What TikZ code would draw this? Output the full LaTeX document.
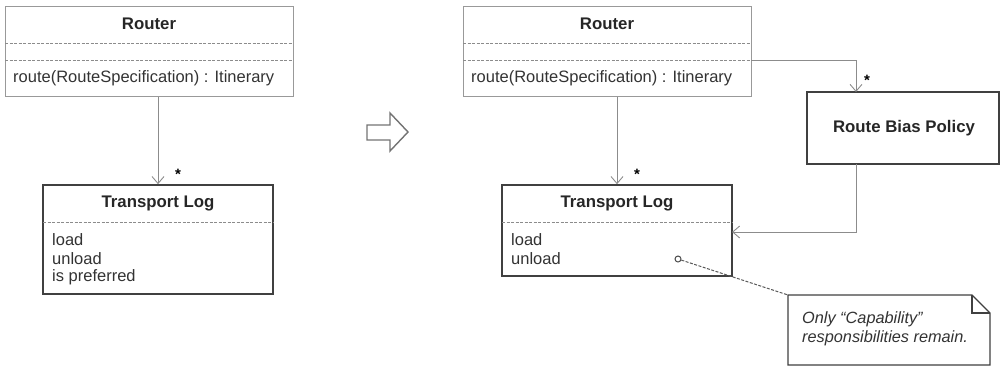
\documentclass[tikz,border=0pt]{standalone}
\usepackage{fontspec}
\setmainfont{Liberation Sans}
\usetikzlibrary{arrows.meta,shapes.misc}
\begin{document}
\begin{tikzpicture}[x=1pt,y=-1pt,
  lightbox/.style={draw=black!40, line width=1pt, inner sep=0pt},
  darkbox/.style={draw=black!75, line width=1.6pt, inner sep=0pt},
  sep/.style={draw=black!45, dashed, dash pattern=on 3pt off 1.5pt, line width=0.9pt},
  conn/.style={draw=black!45, line width=0.9pt},
  tip/.style={-{Straight Barb[length=7pt,width=12pt,line width=0.9pt]}},
  title/.style={font=\fontsize{16.8}{19}\selectfont\bfseries, text=black!85, inner sep=0pt},
  item/.style={font=\fontsize{16.5}{19}\selectfont, text=black!80, inner sep=0pt, anchor=west},
  mult/.style={font=\fontsize{15}{18}\selectfont\bfseries, inner sep=0pt},
  notetext/.style={font=\fontsize{16.3}{18.5}\selectfont\itshape, text=black!80, inner sep=0pt, anchor=west, align=left}]
\useasboundingbox (0,0) rectangle (1000,368);
% ---------- left side ----------
\node[lightbox, minimum width=288pt, minimum height=90pt] (r1) at (149,51) {};
\node[title] (r1t) at (149,24) {Router};
\draw[sep] (5,43) -- (293,43);
\draw[sep] (5,60) -- (293,60);
\node[item] (r1op) at (13,78) {route(RouteSpecification) : Itinerary};

\node[darkbox, minimum width=230pt, minimum height=109pt] (tl1) at (158,239.5) {};
\node[title] (tl1t) at (158,203) {Transport Log};
\draw[sep] (43,222) -- (273,222);
\node[item] (tl1a) at (52,240) {load};
\node[item] (tl1b) at (52,258.5) {unload};
\node[item] (tl1c) at (52,277) {is preferred};

\draw[conn,tip] (tl1.north |- r1.south) -- (tl1.north);
\node[mult] (m1) at (178,174) {*};

% ---------- transformation arrow ----------
\draw[draw=black!55, line width=1.4pt, line join=miter] (367,125) -- (390,125) -- (390,113) -- (408,132) -- (390,151) -- (390,140) -- (367,140) -- cycle;

% ---------- right side ----------
\node[lightbox, minimum width=288pt, minimum height=90pt] (r2) at (607,51) {};
\node[title] (r2t) at (607,24) {Router};
\draw[sep] (463,43) -- (751,43);
\draw[sep] (463,60) -- (751,60);
\node[item] (r2op) at (471,78) {route(RouteSpecification) : Itinerary};

\node[darkbox, minimum width=230pt, minimum height=91pt] (tl2) at (617,230.5) {};
\node[title] (tl2t) at (617,203) {Transport Log};
\draw[sep] (502,222) -- (732,222);
\node[item] (tl2a) at (511,240) {load};
\node[item] (tl2b) at (511,259) {unload};

\draw[conn,tip] (tl2.north |- r2.south) -- (tl2.north);
\node[mult] (m2) at (637,174) {*};

\node[darkbox, minimum width=192pt, minimum height=72pt] (rbp) at (903,128) {};
\node[title] (rbpt) at (904,128) {Route Bias Policy};

\coordinate (r2c) at (751,60);
\coordinate (rbpin) at (856,92);
\draw[conn,tip] (r2c) -| (rbpin);
\node[mult] (m3) at (867,80) {*};

\coordinate (rbpout) at (856,164);
\coordinate (tl2in) at (732,232);
\draw[conn,tip] (rbpout) |- (tl2in);

% ---------- note ----------
\coordinate (nA) at (788,295);
\draw[draw=black!75, line width=1.2pt, fill=white] (788,295) -- (972,295) -- (990,313) -- (990,365) -- (788,365) -- cycle;
\draw[draw=black!75, line width=1.2pt] (972,295) -- (972,313) -- (990,313);
\node[notetext] (note) at (802,329) {Only “Capability”\\responsibilities remain.};
\node[circle, draw=black!70, line width=1pt, fill=white, minimum size=6pt, inner sep=0pt] (anc) at (678,259) {};
\draw[draw=black!65, dashed, dash pattern=on 3pt off 1.5pt, line width=1pt] (anc) -- (nA);
\end{tikzpicture}
\end{document}
